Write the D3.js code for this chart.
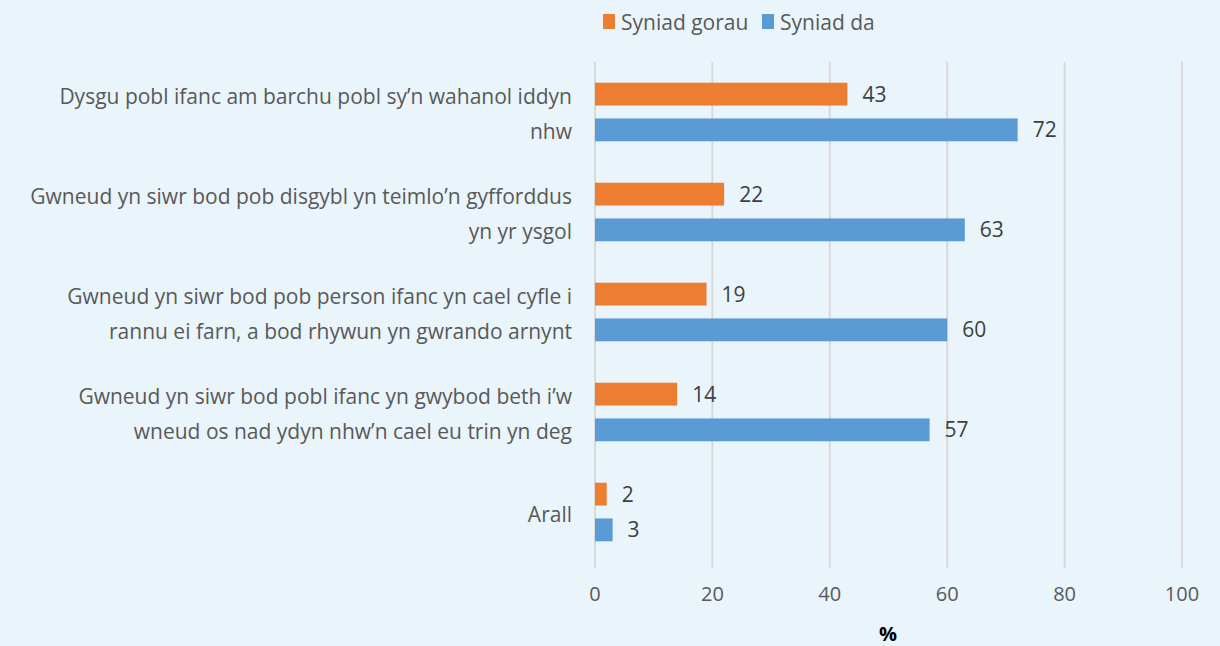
<!DOCTYPE html>
<html>
<head>
<meta charset="utf-8">
<script src="https://cdn.jsdelivr.net/npm/d3@7"></script>
<style>
  body { margin: 0; background: #eaf4fb; }
  svg { display: block; }
</style>
</head>
<body>
<div id="chart"></div>
<script>
// Data
const categories = [
    ["Dysgu pobl ifanc am barchu pobl sy\u2019n wahanol iddyn", "nhw"],
    ["Gwneud yn siwr bod pob disgybl yn teimlo\u2019n gyfforddus", "yn yr ysgol"],
    ["Gwneud yn siwr bod pob person ifanc yn cael cyfle i", "rannu ei farn, a bod rhywun yn gwrando arnynt"],
    ["Gwneud yn siwr bod pobl ifanc yn gwybod beth i\u2019w", "wneud os nad ydyn nhw\u2019n cael eu trin yn deg"],
    ["Arall"]
];
const seriesNames = ["Syniad gorau", "Syniad da"];
const gorau = [43, 22, 19, 14, 2];
const da = [72, 63, 60, 57, 3];
const xTicks = [0, 20, 40, 60, 80, 100];
const colors = ["#ed7d31", "#5b9bd5"];

const width = 1220, height = 646;
const font = "'Open Sans', sans-serif";

const svg = d3.select("#chart").append("svg")
    .attr("width", width)
    .attr("height", height);

svg.append("rect").attr("width", width).attr("height", height).attr("fill", "#eaf4fb");

const x = d3.scaleLinear().domain([0, 100]).range([595, 1182]);
const y = d3.scaleBand().domain(d3.range(categories.length)).range([62, 562]);
const inner = d3.scaleBand().domain([0, 1]).range([0, y.bandwidth()]).paddingInner(0.36).paddingOuter(0.58);

// gridlines
svg.selectAll(".grid")
    .data(xTicks)
    .enter().append("line")
    .attr("x1", d => x(d)).attr("x2", d => x(d))
    .attr("y1", 62).attr("y2", 568)
    .attr("stroke", "#d9d9d9")
    .attr("stroke-width", 2);

// tick labels
svg.selectAll(".tick-label")
    .data(xTicks)
    .enter().append("text")
    .attr("x", d => x(d))
    .attr("y", 594)
    .attr("dy", "0.36em")
    .attr("text-anchor", "middle")
    .style("font-family", font)
    .style("font-size", "20px")
    .attr("fill", "#595959")
    .text(d => d);

svg.append("text")
    .attr("x", 888).attr("y", 634)
    .attr("dy", "0.36em")
    .attr("text-anchor", "middle")
    .style("font-family", font)
    .style("font-size", "20px")
    .style("font-weight", "bold")
    .attr("fill", "#000")
    .text("%");

// bars
const series = [gorau, da];
series.forEach((vals, s) => {
    const g = svg.append("g");
    g.selectAll("rect")
        .data(vals)
        .enter().append("rect")
        .attr("x", x(0))
        .attr("y", (d, i) => y(i) + inner(s))
        .attr("width", d => x(d) - x(0))
        .attr("height", inner.bandwidth())
        .attr("fill", colors[s]);
    g.selectAll("text")
        .data(vals)
        .enter().append("text")
        .attr("x", d => x(d) + 15)
        .attr("y", (d, i) => y(i) + inner(s) + inner.bandwidth() / 2)
        .attr("dy", "0.36em")
        .style("font-family", font)
        .style("font-size", "21px")
        .attr("fill", "#404040")
        .text(d => d);
});

// category labels
categories.forEach((lines, i) => {
    const cy = y(i) + y.bandwidth() / 2 + 2;
    const lh = 35;
    const t = svg.append("text")
        .attr("text-anchor", "end")
        .style("font-family", font)
        .style("font-size", "21px")
        .attr("fill", "#595959");
    lines.forEach((ln, k) => {
        t.append("tspan")
            .attr("x", 572)
            .attr("y", cy + (k - (lines.length - 1) / 2) * lh)
            .attr("dy", "0.36em")
            .text(ln);
    });
});

// legend
const legend = svg.append("g");
const legendX = [603, 762];
seriesNames.forEach((name, s) => {
    legend.append("rect")
        .attr("x", legendX[s]).attr("y", 14)
        .attr("width", 12).attr("height", 15)
        .attr("fill", colors[s]);
    legend.append("text")
        .attr("x", legendX[s] + 18).attr("y", 22)
        .attr("dy", "0.36em")
        .style("font-family", font)
        .style("font-size", "21px")
        .attr("fill", "#595959")
        .text(name);
});
</script>
</body>
</html>
